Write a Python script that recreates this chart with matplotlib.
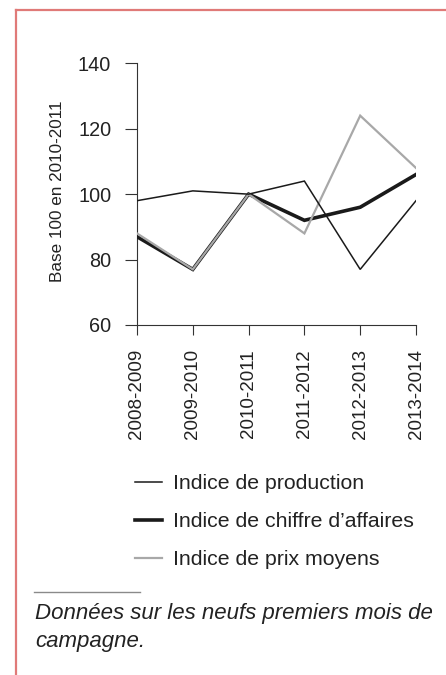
import matplotlib
matplotlib.use("Agg")
import matplotlib.pyplot as plt
from matplotlib.lines import Line2D

plt.rcParams['font.family'] = ['Liberation Sans', 'DejaVu Sans']

categories = ["2008-2009", "2009-2010", "2010-2011", "2011-2012", "2012-2013", "2013-2014"]
production = [98, 101, 100, 104, 77, 98]
chiffre_affaires = [87, 77, 100, 92, 96, 106]
prix_moyens = [88, 77, 100, 88, 124, 108]
y_ticks = [60, 80, 100, 120, 140]
series_labels = ["Indice de production", "Indice de chiffre d\u2019affaires", "Indice de prix moyens"]
y_label = "Base 100 en 2010-2011"
footnote = "Donn\u00e9es sur les neufs premiers mois de\ncampagne."

W, H = 446, 675
fig = plt.figure(figsize=(W / 100, H / 100), dpi=100)
fig.patch.set_facecolor("white")

# red frame (left and top)
frame_col = "#e07a78"
fig.add_artist(Line2D([15.5 / W, 15.5 / W], [0, 1 - 10 / H], color=frame_col, lw=1.6,
                      transform=fig.transFigure))
fig.add_artist(Line2D([15.5 / W, 1], [1 - 10 / H, 1 - 10 / H], color=frame_col, lw=1.6,
                      transform=fig.transFigure))

ax = fig.add_axes([137 / W, 1 - 325 / H, (416 - 137) / W, (325 - 63.3) / H])
x = list(range(len(categories)))
txt = "#222222"
l2, = ax.plot(x, chiffre_affaires, color="#1a1a1a", lw=2.6, solid_joinstyle="miter", zorder=3)
l3, = ax.plot(x, prix_moyens, color="#a8a8a8", lw=1.6, solid_joinstyle="miter", zorder=4)
l1, = ax.plot(x, production, color="#1a1a1a", lw=1.1, solid_joinstyle="miter", zorder=5)

ax.set_xlim(0, len(categories) - 1)
ax.set_ylim(60, 140)
ax.set_yticks(y_ticks)
ax.set_xticks(x)
ax.set_xticklabels(categories, rotation=90, fontsize=13.5, color=txt)
ax.tick_params(axis="y", labelsize=14.3, labelcolor=txt, length=8.6, width=0.8, color="#333333", pad=10)
ax.tick_params(axis="x", length=7.2, width=0.8, color="#333333", pad=10)
for s in ["top", "right"]:
    ax.spines[s].set_visible(False)
for s in ["left", "bottom"]:
    ax.spines[s].set_color("#333333")
    ax.spines[s].set_linewidth(0.8)
ax.set_facecolor("none")

fig.text(58 / W, 1 - 191 / H, y_label, rotation=90, ha="center", va="center", fontsize=12.3, color=txt)

leg = fig.legend([l1, l2, l3], series_labels, loc="upper left",
                 bbox_to_anchor=(135 / W, 1 - 474 / H), frameon=False, fontsize=15.3,
                 handlelength=1.25, handletextpad=0.55, labelspacing=0.9, borderpad=0,
                 borderaxespad=0, labelcolor=txt)

fig.add_artist(Line2D([34 / W, 140 / W], [1 - 592 / H, 1 - 592 / H], color="#8a8a8a", lw=1.0,
                      transform=fig.transFigure))
fig.text(35 / W, 1 - 603 / H, footnote, ha="left", va="top", fontsize=16, style="italic",
         color=txt, linespacing=1.42)

fig.savefig("out.png", dpi=100, facecolor="white")
